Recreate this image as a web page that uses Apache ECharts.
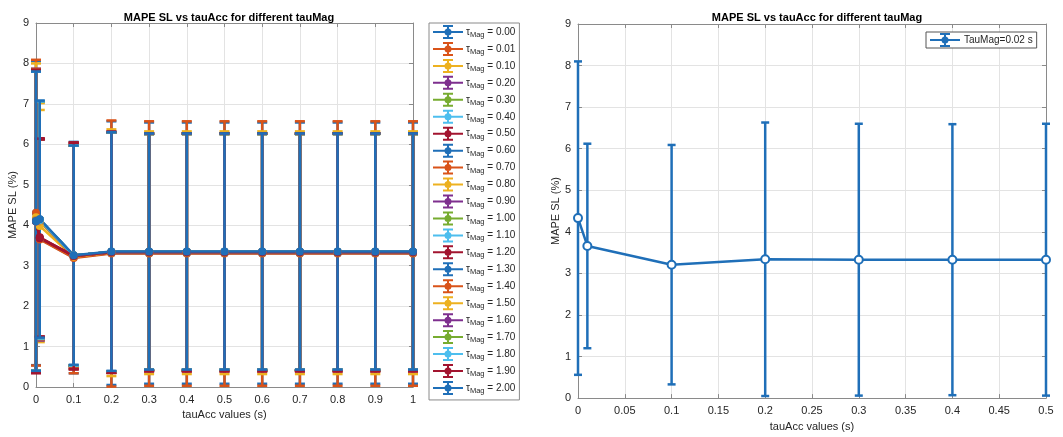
<!DOCTYPE html>
<html>
<head>
<meta charset="utf-8">
<script src="https://cdn.jsdelivr.net/npm/echarts@6/dist/echarts.min.js"></script>
<style>
  html, body { margin: 0; padding: 0; background: #fff; }
  #chart { width: 1063px; height: 437px; }
</style>
</head>
<body>
<div id="chart"></div>
<script>
// tauAcc sample points (s)
const tauAccLeft = [0, 0.01, 0.1, 0.2, 0.3, 0.4, 0.5, 0.6, 0.7, 0.8, 0.9, 1];
const tauAccRight = [0, 0.01, 0.1, 0.2, 0.3, 0.4, 0.5];

const tauMagLabels = [
  "0.00", "0.01", "0.10", "0.20", "0.30", "0.40", "0.50", "0.60", "0.70", "0.80", "0.90",
  "1.00", "1.10", "1.20", "1.30", "1.40", "1.50", "1.60", "1.70", "1.80", "1.90", "2.00",
];

// mean MAPE SL (%) per tauMag, one row per series
const leftMean = [
  [4.30, 3.66, 3.20, 3.31, 3.31, 3.31, 3.31, 3.31, 3.31, 3.31, 3.31, 3.31],
  [4.31, 3.65, 3.19, 3.30, 3.30, 3.30, 3.30, 3.30, 3.30, 3.30, 3.30, 3.30],
  [4.20, 3.98, 3.22, 3.32, 3.32, 3.32, 3.32, 3.32, 3.32, 3.32, 3.32, 3.32],
  [4.12, 4.10, 3.24, 3.33, 3.33, 3.33, 3.33, 3.33, 3.33, 3.33, 3.33, 3.33],
  [4.11, 4.12, 3.25, 3.34, 3.33, 3.33, 3.33, 3.33, 3.33, 3.33, 3.33, 3.33],
  [4.11, 4.13, 3.25, 3.34, 3.34, 3.34, 3.34, 3.34, 3.34, 3.34, 3.34, 3.34],
  [4.10, 3.68, 3.24, 3.33, 3.33, 3.33, 3.33, 3.33, 3.33, 3.33, 3.33, 3.33],
  [4.10, 4.14, 3.25, 3.34, 3.34, 3.34, 3.34, 3.34, 3.34, 3.34, 3.34, 3.34],
  [4.12, 4.12, 3.24, 3.33, 3.33, 3.33, 3.33, 3.33, 3.33, 3.33, 3.33, 3.33],
  [4.12, 4.10, 3.25, 3.34, 3.34, 3.34, 3.34, 3.34, 3.34, 3.34, 3.34, 3.34],
  [4.11, 4.12, 3.25, 3.34, 3.34, 3.34, 3.34, 3.34, 3.34, 3.34, 3.34, 3.34],
  [4.11, 4.13, 3.25, 3.34, 3.34, 3.34, 3.34, 3.34, 3.34, 3.34, 3.34, 3.34],
  [4.10, 4.13, 3.25, 3.34, 3.34, 3.34, 3.34, 3.34, 3.34, 3.34, 3.34, 3.34],
  [4.10, 3.70, 3.24, 3.33, 3.33, 3.33, 3.33, 3.33, 3.33, 3.33, 3.33, 3.33],
  [4.10, 4.14, 3.25, 3.34, 3.34, 3.34, 3.34, 3.34, 3.34, 3.34, 3.34, 3.34],
  [4.11, 4.12, 3.24, 3.33, 3.33, 3.33, 3.33, 3.33, 3.33, 3.33, 3.33, 3.33],
  [4.12, 4.11, 3.25, 3.34, 3.34, 3.34, 3.34, 3.34, 3.34, 3.34, 3.34, 3.34],
  [4.11, 4.12, 3.25, 3.34, 3.34, 3.34, 3.34, 3.34, 3.34, 3.34, 3.34, 3.34],
  [4.11, 4.13, 3.25, 3.34, 3.34, 3.34, 3.34, 3.34, 3.34, 3.34, 3.34, 3.34],
  [4.10, 4.13, 3.25, 3.34, 3.34, 3.34, 3.34, 3.34, 3.34, 3.34, 3.34, 3.34],
  [4.10, 3.69, 3.24, 3.33, 3.33, 3.33, 3.33, 3.33, 3.33, 3.33, 3.33, 3.33],
  [4.10, 4.15, 3.26, 3.35, 3.35, 3.35, 3.35, 3.35, 3.35, 3.35, 3.35, 3.35],
];

// standard deviation (error bar half-length) per tauMag
const leftStd = [
  [3.76, 2.46, 2.86, 3.26, 3.23, 3.23, 3.23, 3.23, 3.23, 3.23, 3.23, 3.23],
  [3.78, 2.47, 2.85, 3.29, 3.27, 3.27, 3.27, 3.27, 3.27, 3.27, 3.27, 3.27],
  [3.80, 2.87, 2.76, 3.05, 3.00, 3.00, 3.00, 3.00, 3.00, 3.00, 3.00, 3.00],
  [3.75, 2.95, 2.74, 2.97, 2.93, 2.93, 2.93, 2.93, 2.93, 2.93, 2.93, 2.93],
  [3.72, 2.94, 2.73, 2.96, 2.92, 2.92, 2.92, 2.92, 2.92, 2.92, 2.92, 2.92],
  [3.71, 2.94, 2.72, 2.96, 2.92, 2.92, 2.92, 2.92, 2.92, 2.92, 2.92, 2.92],
  [3.76, 2.44, 2.80, 2.98, 2.94, 2.94, 2.94, 2.94, 2.94, 2.94, 2.94, 2.94],
  [3.70, 2.93, 2.72, 2.96, 2.92, 2.92, 2.92, 2.92, 2.92, 2.92, 2.92, 2.92],
  [3.72, 2.94, 2.73, 2.97, 2.93, 2.93, 2.93, 2.93, 2.93, 2.93, 2.93, 2.93],
  [3.74, 2.92, 2.72, 2.96, 2.92, 2.92, 2.92, 2.92, 2.92, 2.92, 2.92, 2.92],
  [3.72, 2.94, 2.72, 2.96, 2.92, 2.92, 2.92, 2.92, 2.92, 2.92, 2.92, 2.92],
  [3.71, 2.93, 2.72, 2.96, 2.92, 2.92, 2.92, 2.92, 2.92, 2.92, 2.92, 2.92],
  [3.70, 2.93, 2.72, 2.96, 2.92, 2.92, 2.92, 2.92, 2.92, 2.92, 2.92, 2.92],
  [3.74, 2.45, 2.80, 2.98, 2.94, 2.94, 2.94, 2.94, 2.94, 2.94, 2.94, 2.94],
  [3.70, 2.93, 2.72, 2.96, 2.92, 2.92, 2.92, 2.92, 2.92, 2.92, 2.92, 2.92],
  [3.72, 2.94, 2.73, 2.97, 2.93, 2.93, 2.93, 2.93, 2.93, 2.93, 2.93, 2.93],
  [3.73, 2.93, 2.72, 2.96, 2.92, 2.92, 2.92, 2.92, 2.92, 2.92, 2.92, 2.92],
  [3.72, 2.94, 2.72, 2.96, 2.92, 2.92, 2.92, 2.92, 2.92, 2.92, 2.92, 2.92],
  [3.71, 2.93, 2.72, 2.96, 2.92, 2.92, 2.92, 2.92, 2.92, 2.92, 2.92, 2.92],
  [3.70, 2.93, 2.72, 2.96, 2.92, 2.92, 2.92, 2.92, 2.92, 2.92, 2.92, 2.92],
  [3.75, 2.45, 2.80, 2.98, 2.94, 2.94, 2.94, 2.94, 2.94, 2.94, 2.94, 2.94],
  [3.70, 2.93, 2.71, 2.95, 2.92, 2.92, 2.92, 2.92, 2.92, 2.92, 2.92, 2.92],
];

// single run, TauMag = 0.02 s
const rightName = "TauMag=0.02 s";
const rightMean = [4.33, 3.66, 3.21, 3.34, 3.33, 3.33, 3.33];
const rightStd = [3.77, 2.46, 2.88, 3.29, 3.27, 3.26, 3.27];

const matlabColors = ["#1f6fb8", "#D95319", "#EDB120", "#7E2F8E", "#77AC30", "#4DBEEE", "#A2142F"];
const font = "'Liberation Sans', Arial, Helvetica, sans-serif";
const textColor = "#262626";
const frameColor = "#8a8a8a";

const errIcon =
  "path://M0,6 H30 V8 H0 Z M14,0 H16 V14 H14 Z M10,0 H20 V2 H10 Z M10,12 H20 V14 H10 Z " +
  "M18.5,7 A3.5,3.5 0 1 1 11.5,7 A3.5,3.5 0 1 1 18.5,7 Z";

function errorBar(capHalf, width) {
  return (params, api) => {
    const x = api.value(0);
    const m = api.value(1);
    const s = api.value(2);
    const top = api.coord([x, m + s]);
    const bot = api.coord([x, m - s]);
    const style = { stroke: api.visual("color"), lineWidth: width };
    return {
      type: "group",
      children: [
        { type: "line", shape: { x1: top[0], y1: top[1], x2: bot[0], y2: bot[1] }, style },
        { type: "line", shape: { x1: top[0] - capHalf, y1: top[1], x2: top[0] + capHalf, y2: top[1] }, style },
        { type: "line", shape: { x1: bot[0] - capHalf, y1: bot[1], x2: bot[0] + capHalf, y2: bot[1] }, style },
      ],
    };
  };
}

function valueAxis(gridIndex, max, interval, position, showLabels, extra) {
  return Object.assign({
    type: "value",
    gridIndex,
    min: 0,
    max,
    interval,
    position,
    axisLine: { show: true, onZero: false, lineStyle: { color: frameColor, width: 1 } },
    axisTick: { show: true, inside: true, length: 4, lineStyle: { color: frameColor } },
    axisLabel: { show: showLabels, color: textColor, fontSize: 11, fontFamily: font, margin: 7 },
    splitLine: { show: showLabels, lineStyle: { color: "#e3e3e3", width: 1 } },
  }, extra || {});
}

const axisName = (name, gap) => ({
  name,
  nameLocation: "middle",
  nameGap: gap,
  nameTextStyle: { color: textColor, fontSize: 11, fontFamily: font },
});

const series = [];
tauMagLabels.forEach((name, i) => {
  const color = matlabColors[i % matlabColors.length];
  const pts = tauAccLeft.map((x, j) => [x, leftMean[i][j], leftStd[i][j]]);
  series.push({
    name,
    type: "line",
    xAxisIndex: 0,
    yAxisIndex: 0,
    data: pts.map((p) => [p[0], p[1]]),
    color,
    symbol: "circle",
    symbolSize: 8,
    lineStyle: { width: 2.5 },
    itemStyle: { color },
  });
  series.push({
    name,
    type: "custom",
    xAxisIndex: 0,
    yAxisIndex: 0,
    data: pts,
    encode: { x: 0, y: 1 },
    color,
    itemStyle: { color },
    renderItem: errorBar(5, 2.5),
  });
});

const rightColor = matlabColors[0];
const rightPts = tauAccRight.map((x, j) => [x, rightMean[j], rightStd[j]]);
series.push({
  name: rightName,
  type: "line",
  xAxisIndex: 2,
  yAxisIndex: 2,
  data: rightPts.map((p) => [p[0], p[1]]),
  color: rightColor,
  symbol: "emptyCircle",
  symbolSize: 8,
  lineStyle: { width: 2.5 },
  itemStyle: { color: rightColor, borderWidth: 2 },
});
series.push({
  name: rightName,
  type: "custom",
  xAxisIndex: 2,
  yAxisIndex: 2,
  data: rightPts,
  encode: { x: 0, y: 1 },
  color: rightColor,
  itemStyle: { color: rightColor },
  renderItem: errorBar(4, 2.5),
});

const chart = echarts.init(document.getElementById("chart"), null, { renderer: "canvas" });

const options = {
  animation: false,
  backgroundColor: "#fff",
  textStyle: { fontFamily: font },
  title: [
    {
      text: "MAPE SL vs tauAcc for different tauMag",
      left: 224, top: 7, textAlign: "center",
      textStyle: { fontSize: 11, fontWeight: "bold", color: "#000", fontFamily: font },
    },
    {
      text: "MAPE SL vs tauAcc for different tauMag",
      left: 812, top: 7, textAlign: "center",
      textStyle: { fontSize: 11, fontWeight: "bold", color: "#000", fontFamily: font },
    },
  ],
  legend: [
    {
      orient: "vertical",
      left: 429,
      top: 23,
      width: 91,
      padding: [2, 4, 5, 4],
      itemWidth: 30,
      itemHeight: 14,
      itemGap: 2.95,
      borderColor: frameColor,
      borderWidth: 1,
      borderRadius: 0,
      backgroundColor: "#fff",
      data: tauMagLabels.map((name) => ({ name, icon: errIcon })),
      formatter: (name) => `{t|τ}{s|Mag}{t| = ${name}}`,
      textStyle: {
        color: textColor,
        padding: [0, 0, 0, -2],
        rich: {
          t: { fontSize: 10, fontFamily: font, color: textColor, lineHeight: 14 },
          s: { fontSize: 7.5, fontFamily: font, color: textColor, lineHeight: 14, verticalAlign: "bottom" },
        },
      },
    },
    {
      orient: "vertical",
      left: 926,
      top: 32,
      padding: [1, 4, 1, 4],
      itemWidth: 32,
      itemHeight: 14,
      borderColor: "#555",
      borderWidth: 1,
      borderRadius: 0,
      backgroundColor: "#fff",
      data: [{ name: rightName, icon: errIcon }],
      textStyle: { color: textColor, fontSize: 10, fontFamily: font, padding: [0, 0, 0, -2] },
    },
  ],
  grid: [
    { left: 36, top: 23, width: 377, height: 364 },
    { left: 578, top: 24, width: 468, height: 378 },
  ],
  xAxis: [
    valueAxis(0, 1, 0.1, "bottom", true, axisName("tauAcc values (s)", 21)),
    valueAxis(0, 1, 0.1, "top", false),
    valueAxis(1, 0.5, 0.05, "bottom", true, axisName("tauAcc values (s)", 21)),
    valueAxis(1, 0.5, 0.05, "top", false),
  ],
  yAxis: [
    valueAxis(0, 9, 1, "left", true, axisName("MAPE SL (%)", 18)),
    valueAxis(0, 9, 1, "right", false),
    valueAxis(1, 9, 1, "left", true, axisName("MAPE SL (%)", 15)),
    valueAxis(1, 9, 1, "right", false),
  ],
  series,
};

chart.setOption(options);
</script>
</body>
</html>
